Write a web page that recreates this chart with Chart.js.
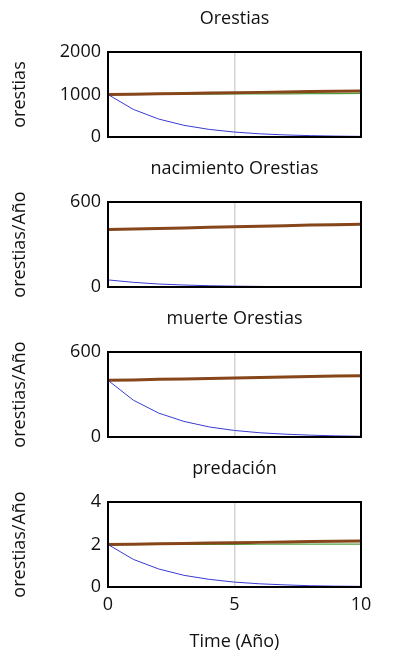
<!DOCTYPE html>
<html>
<head>
<meta charset="utf-8">
<script src="https://cdn.jsdelivr.net/npm/chart.js@4"></script>
<style>
  body { margin: 0; background: #fff; }
  .panel { position: absolute; left: 0; width: 400px; }
</style>
</head>
<body>
<div class="panel" style="top:0;height:150px"><canvas id="c0"></canvas></div>
<div class="panel" style="top:150px;height:150px"><canvas id="c1"></canvas></div>
<div class="panel" style="top:300px;height:150px"><canvas id="c2"></canvas></div>
<div class="panel" style="top:450px;height:214px"><canvas id="c3"></canvas></div>
<script>
// Time axis (Año)
const time = [0, 1, 2, 3, 4, 5, 6, 7, 8, 9, 10];

// Orestias (orestias)
const orestiasBlue = [1000, 650, 423, 275, 179, 116, 75, 49, 32, 21, 14];
const orestiasRed = [1000, 1008, 1016, 1025, 1033, 1042, 1050, 1059, 1068, 1076, 1085];
const orestiasGreen = [1000, 1002, 1005, 1007, 1010, 1012, 1015, 1017, 1020, 1022, 1025];

// nacimiento Orestias (orestias/Año)
const nacimientoBlue = [50, 33, 21, 14, 9, 6, 4, 2, 2, 1, 1];
const nacimientoRed = [405, 409, 413, 417, 421, 425, 429, 433, 437, 440, 443];
const nacimientoGreen = [405, 409, 413, 417, 422, 426, 430, 434, 438, 442, 446];

// muerte Orestias (orestias/Año)
const muerteBlue = [400, 260, 169, 110, 71, 46, 30, 20, 13, 8, 5];
const muerteRed = [400, 403, 407, 410, 413, 417, 420, 423, 427, 430, 433];
const muerteGreen = [400, 403, 407, 410, 414, 417, 421, 424, 427, 431, 434];

// predación (orestias/Año)
const predacionBlue = [2, 1.3, 0.85, 0.55, 0.36, 0.23, 0.15, 0.1, 0.06, 0.04, 0.03];
const predacionRed = [2, 2.016, 2.032, 2.05, 2.066, 2.084, 2.1, 2.118, 2.136, 2.152, 2.17];
const predacionGreen = [2, 2.002, 2.004, 2.006, 2.008, 2.01, 2.012, 2.014, 2.016, 2.018, 2.02];

const yTicks = [
  [0, 1000, 2000],
  [0, 600],
  [0, 600],
  [0, 2, 4],
];
const xTicks = [0, 5, 10];

const panels = [
  { title: "Orestias", unit: "orestias", blue: orestiasBlue, red: orestiasRed, green: orestiasGreen },
  { title: "nacimiento Orestias", unit: "orestias/Año", blue: nacimientoBlue, red: nacimientoRed, green: nacimientoGreen },
  { title: "muerte Orestias", unit: "orestias/Año", blue: muerteBlue, red: muerteRed, green: muerteGreen },
  { title: "predación", unit: "orestias/Año", blue: predacionBlue, red: predacionRed, green: predacionGreen },
];

const textFont = { size: 18, family: "Open Sans, sans-serif", weight: "normal" };

// Black frame around the plot area, and the panel title centred over it
const frame = {
  id: "frame",
  afterDraw(chart, args, opts) {
    const a = chart.chartArea;
    const ctx = chart.ctx;
    ctx.save();
    ctx.strokeStyle = "#000";
    ctx.lineWidth = 2;
    ctx.strokeRect(a.left, a.top, a.right - a.left, a.bottom - a.top);
    ctx.fillStyle = "#111";
    ctx.font = "18px 'Open Sans', sans-serif";
    ctx.textAlign = "center";
    ctx.textBaseline = "middle";
    ctx.fillText(opts.text, (a.left + a.right) / 2, 19);
    ctx.restore();
  },
};

function toPoints(values) {
  return values.map((v, i) => ({ x: time[i], y: v }));
}

panels.forEach((p, i) => {
  const last = i === panels.length - 1;
  const ticks = yTicks[i];
  new Chart(document.getElementById("c" + i), {
    type: "line",
    data: {
      datasets: [
        { data: toPoints(p.blue), borderColor: "#3a3ad4", borderWidth: 1 },
        { data: toPoints(p.red), borderColor: "#86461a", borderWidth: 3 },
        { data: toPoints(p.green), borderColor: "#4f9e3e", borderWidth: 1.2 },
      ],
    },
    options: {
      responsive: true,
      maintainAspectRatio: false,
      animation: false,
      elements: { point: { radius: 0 }, line: { tension: 0 } },
      layout: { padding: { left: 0, right: 39, top: 52, bottom: 0 } },
      plugins: {
        legend: { display: false },
        tooltip: { enabled: false },
        title: { display: false },
        frame: { text: p.title },
      },
      scales: {
        x: {
          type: "linear",
          min: 0,
          max: 10,
          afterFit: (s) => { s.height = last ? 77 : 13; },
          afterBuildTicks: (s) => { s.ticks = xTicks.map((v) => ({ value: v })); },
          grid: {
            drawTicks: false,
            color: (c) => (c.tick && c.tick.value === 5 ? "#d4d4d4" : "rgba(0,0,0,0)"),
            lineWidth: 1.5,
          },
          border: { display: false },
          ticks: { display: last, color: "#111", font: textFont, padding: 7 },
          title: {
            display: last,
            text: "Time (Año)",
            color: "#111",
            font: textFont,
            padding: { top: 0, bottom: 11 },
          },
        },
        y: {
          min: ticks[0],
          max: ticks[ticks.length - 1],
          afterFit: (s) => {
            s.width = 108;
            s.paddingTop = 0;
            s.paddingBottom = 0;
          },
          afterBuildTicks: (s) => { s.ticks = ticks.map((v) => ({ value: v })); },
          grid: { display: false, drawTicks: false },
          border: { display: false },
          ticks: {
            color: "#111",
            font: textFont,
            padding: 7,
            callback: (v) => String(v),
          },
          title: {
            display: true,
            text: p.unit,
            color: "#111",
            font: textFont,
            padding: { top: 9, bottom: 0 },
          },
        },
      },
    },
    plugins: [frame],
  });
});
</script>
</body>
</html>
